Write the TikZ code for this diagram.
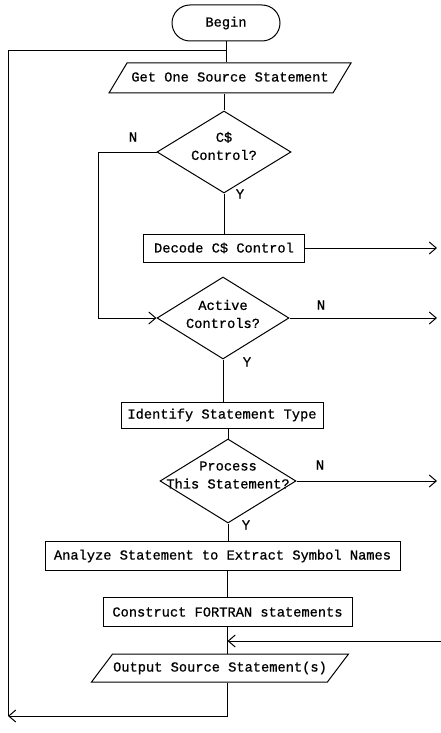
\documentclass[tikz,border=0pt]{standalone}
\usepackage{fontspec}
\setmonofont[FakeBold=0.8]{Liberation Mono}
\usetikzlibrary{arrows.meta}
\usetikzlibrary{shapes.geometric,calc}

\begin{document}
\begin{tikzpicture}[
                x=1pt, y=-1pt,
                >={Straight Barb[length=7pt, width=12pt]},
                font=\ttfamily\fontsize{13.7}{18}\selectfont,
                line width=1pt,
                terminal/.style={rectangle, rounded corners=18pt, draw, minimum width=108pt,
                minimum height=36pt, inner sep=0pt},
                iobox/.style={trapezium, trapezium left angle=59, trapezium right angle=121,
                trapezium stretches body, draw, text height=10pt, text depth=3pt,
                inner xsep=0pt, inner ysep=8.5pt},
                procbox/.style={rectangle, draw, minimum height=28pt, inner sep=0pt},
                decision/.style={diamond, draw, minimum width=134pt, minimum height=82pt, inner sep=0pt},
                dectext/.style={align=center, inner sep=0pt},
                flowline/.style={-},
                flowarrow/.style={->},
                branchlabel/.style={inner sep=1pt},
                ]

                \useasboundingbox (0,0) rectangle (441,733);

                % ── Helper coordinates: bypass, right edge, loop ──
                \coordinate (bypass) at (98,0);
                \coordinate (rightedge) at (437,0);
                \coordinate (entry) at (441,641);
                \coordinate (join) at (226,51);
                \coordinate (loopcorner) at (8,716);

                % ── Main column ──
                \node[terminal] (begin) at (226,23) {Begin};
                \node[iobox, minimum width=242pt] (get) at (230,78) {Get One Source Statement};

                \node[decision] (cdol) at (224,152) {};
                \node[dectext] (cdol-txt) at ($(cdol)+(0,-6)$) {C\$\\Control?};

                \node[procbox, minimum width=161pt] (decode) at (224,248) {Decode C\$ Control};

                \node[decision, minimum width=132pt] (active) at (223,318) {};
                \node[dectext] (active-txt) at ($(active)+(0,-4)$) {Active\\Controls?};

                \node[procbox, minimum width=202pt, minimum height=26pt] (ident) at (222,415) {Identify Statement Type};

                \node[decision, minimum width=136pt, minimum height=84pt] (proc) at (228,481) {};
                \node[dectext] (proc-txt) at ($(proc)+(0,-6)$) {Process\\This Statement?};

                \node[procbox, minimum width=355pt, minimum height=29pt] (analyze) at (222.5,556) {Analyze Statement to Extract Symbol Names};
                \node[procbox, minimum width=249pt, minimum height=29pt] (construct) at (227.5,612) {Construct FORTRAN statements};
                \node[iobox, trapezium left angle=53, trapezium right angle=127,
                inner ysep=7.5pt, minimum width=257pt] (output) at (220,668) {Output Source Statement(s)};

                % ── Branch labels ──
                \node[branchlabel] (cdol-n) at (133,137) {N};
                \node[branchlabel] (cdol-y) at (240,194) {Y};
                \node[branchlabel] (active-n) at (321,305) {N};
                \node[branchlabel] (active-y) at (247,362) {Y};
                \node[branchlabel] (proc-n) at (320,465) {N};
                \node[branchlabel] (proc-y) at (246,525) {Y};

                % ── Straight connectors down the column ──
                \draw[flowline] (begin.south) -- (begin.south |- get.north);
                \draw[flowline] (get.south -| cdol.north) -- (cdol.north);
                \draw[flowline] (cdol.south) -- (cdol.south |- decode.north);
                \draw[flowline] (active.south) -- (active.south |- ident.north);
                \draw[flowline] (ident.south -| proc.north) -- (proc.north);
                \draw[flowline] (proc.south) -- (proc.south |- analyze.north);
                \draw[flowline] (analyze.south -| construct.north) -- (construct.north);
                \draw[flowline] (construct.south) -- (construct.south |- output.north);

                % ── Branches ──
                \draw[flowarrow] (cdol.west) -- (cdol.west -| bypass) |- (active.west);
                \draw[flowarrow] (decode.east) -- (decode.east -| rightedge);
                \draw[flowarrow] (active.east) -- (active.east -| rightedge);
                \draw[flowarrow] (proc.east) -- (proc.east -| rightedge);
                \draw[flowarrow] (entry) -- (entry -| construct.south);

                % ── Loop back to the top ──
                \draw[flowarrow] (output.south -| construct.south) |- (loopcorner);
                \draw[flowline] (loopcorner) |- (join);

\end{tikzpicture}
\end{document}
